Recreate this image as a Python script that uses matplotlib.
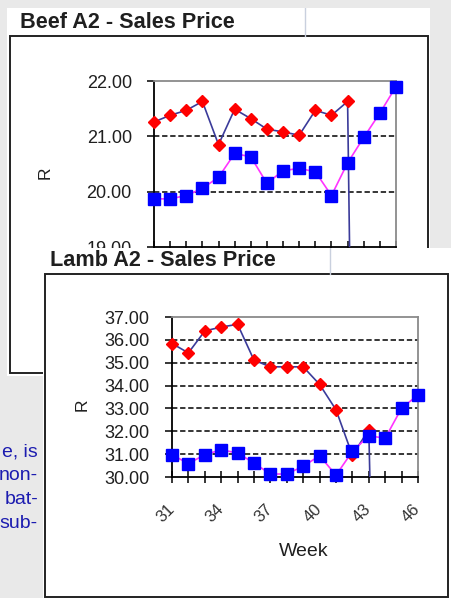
import matplotlib
matplotlib.use("Agg")
import matplotlib.pyplot as plt
from matplotlib.patches import Rectangle

plt.rcParams['font.family'] = ['Liberation Sans', 'DejaVu Sans']

# data (weeks 31..46)
weeks = list(range(31, 47))
week_labels = [str(w) if (w - 31) % 3 == 0 else "" for w in weeks]

beef_red = [21.26, 21.38, 21.47, 21.63, 20.85, 21.49, 21.32, 21.13, 21.08, 21.02,
            21.47, 21.38, 21.63, 0.0, 0.0, 0.0]
beef_blue = [19.87, 19.87, 19.93, 20.06, 20.26, 20.69, 20.63, 20.15, 20.38, 20.42,
             20.36, 19.93, 20.52, 20.98, 21.42, 21.90]
beef_yticks = [19, 20, 21, 22]

lamb_red = [35.84, 35.43, 36.39, 36.56, 36.68, 35.11, 34.82, 34.82, 34.82, 34.05,
            32.94, 30.95, 32.07, 0.0, 0.0, 0.0]
lamb_blue = [30.98, 30.58, 30.98, 31.19, 31.05, 30.61, 30.13, 30.13, 30.47, 30.93,
             30.08, 31.12, 31.80, 31.70, 33.01, 33.59]
lamb_yticks = [30, 31, 32, 33, 34, 35, 36, 37]

side_text = ["e, is", "non-", "bat-", "sub-"]

W, H = 451, 598
BG = "#e9e9e9"
TXT = "#1f1f1f"


def rect(x0, y0, x1, y1):
    # pixel box (top-left origin) -> figure fraction
    return [x0 / W, 1 - y1 / H, (x1 - x0) / W, (y1 - y0) / H]


def panel(fig, box, border, title, title_xy, sheet_line, z):
    x0, y0, x1, y1 = box
    ax = fig.add_axes(rect(*box), zorder=z)
    ax.set_facecolor("white")
    ax.set_xlim(x0, x1)
    ax.set_ylim(y1, y0)
    ax.set_xticks([])
    ax.set_yticks([])
    for s in ax.spines.values():
        s.set_visible(False)
    bx0, by0, bx1, by1 = border
    ax.add_patch(Rectangle((bx0, by0), bx1 - bx0, by1 - by0, fill=False,
                           edgecolor="#222222", lw=1.4))
    ax.plot([sheet_line, sheet_line], [y0, by0], color="#c9d0de", lw=1)
    ax.text(title_xy[0], title_xy[1], title, fontsize=15.6, fontweight="bold",
            color=TXT, ha="left", va="center")
    return ax


def price_plot(fig, box, red, blue, yticks, z, ylab_xy):
    ax = fig.add_axes(rect(*box), zorder=z)
    ax.set_facecolor("white")
    for y in yticks[1:-1]:
        ax.axhline(y, color="black", lw=1.1, ls=(0, (3.5, 1.8)), zorder=1)
    # lines are clipped to the plot area, markers are not
    ax.plot(weeks, red, color="#3b3b9a", lw=1.2, zorder=3)
    rw = [w for w, v in zip(weeks, red) if v > 0]
    rv = [v for v in red if v > 0]
    ax.plot(rw, rv, ls="none", marker="D", ms=6, mfc="#ff0000",
            mec="#ff0000", zorder=4, clip_on=False)
    ax.plot(weeks, blue, color="#ff33ff", lw=1.2, zorder=5)
    ax.plot(weeks, blue, ls="none", marker="s", ms=8.5, mfc="#0000ff",
            mec="#0000ff", zorder=6, clip_on=False)
    ax.set_xlim(weeks[0], weeks[-1])
    ax.set_ylim(yticks[0], yticks[-1])
    ax.set_yticks(yticks)
    ax.set_yticklabels([f"{v:.2f}" for v in yticks])
    ax.set_xticks(weeks)
    ax.set_xticklabels(week_labels, rotation=45, ha="right", va="center",
                       rotation_mode="anchor")
    ax.tick_params(axis="y", direction="out", length=5, width=1.1, pad=11,
                   labelsize=13, labelcolor=TXT)
    ax.tick_params(axis="x", direction="inout", length=9, width=1.1, pad=17,
                   labelsize=12, labelcolor="#333333")
    ax.spines["left"].set_color("black")
    ax.spines["bottom"].set_color("black")
    ax.spines["top"].set_color("#8a8a8a")
    ax.spines["right"].set_color("#8a8a8a")
    for s in ax.spines.values():
        s.set_linewidth(1.3)
    ax.set_ylabel("R", fontsize=12.5, color=TXT)
    ax.yaxis.set_label_coords(*ylab_xy)
    ax.set_xlabel("Week", fontsize=14, color=TXT)
    ax.xaxis.set_label_coords(0.535, -0.41)
    return ax


fig = plt.figure(figsize=(W / 100, H / 100), dpi=100, facecolor=BG)

# beef chart (behind)
panel(fig, (7, 8, 430, 376), (10, 36, 428, 373), "Beef A2 - Sales Price",
      (20, 22), 305, 0)
price_plot(fig, (154, 81, 396, 247), beef_red, beef_blue, beef_yticks, 1,
           (-0.417, 0.45))

# lamb chart (in front)
panel(fig, (43, 248, 451, 598), (45, 274, 448, 597), "Lamb A2 - Sales Price",
      (50, 261), 330, 2)
price_plot(fig, (172, 317, 418, 477), lamb_red, lamb_blue, lamb_yticks, 3,
           (-0.333, 0.45))

# bit of document text to the left
for i, t in enumerate(side_text):
    fig.text(38 / W, 1 - (452 + 24 * i) / H, t, fontsize=14, color="#1c1cb0",
             ha="right", va="center")

fig.savefig("out.png", dpi=100, facecolor=BG)
